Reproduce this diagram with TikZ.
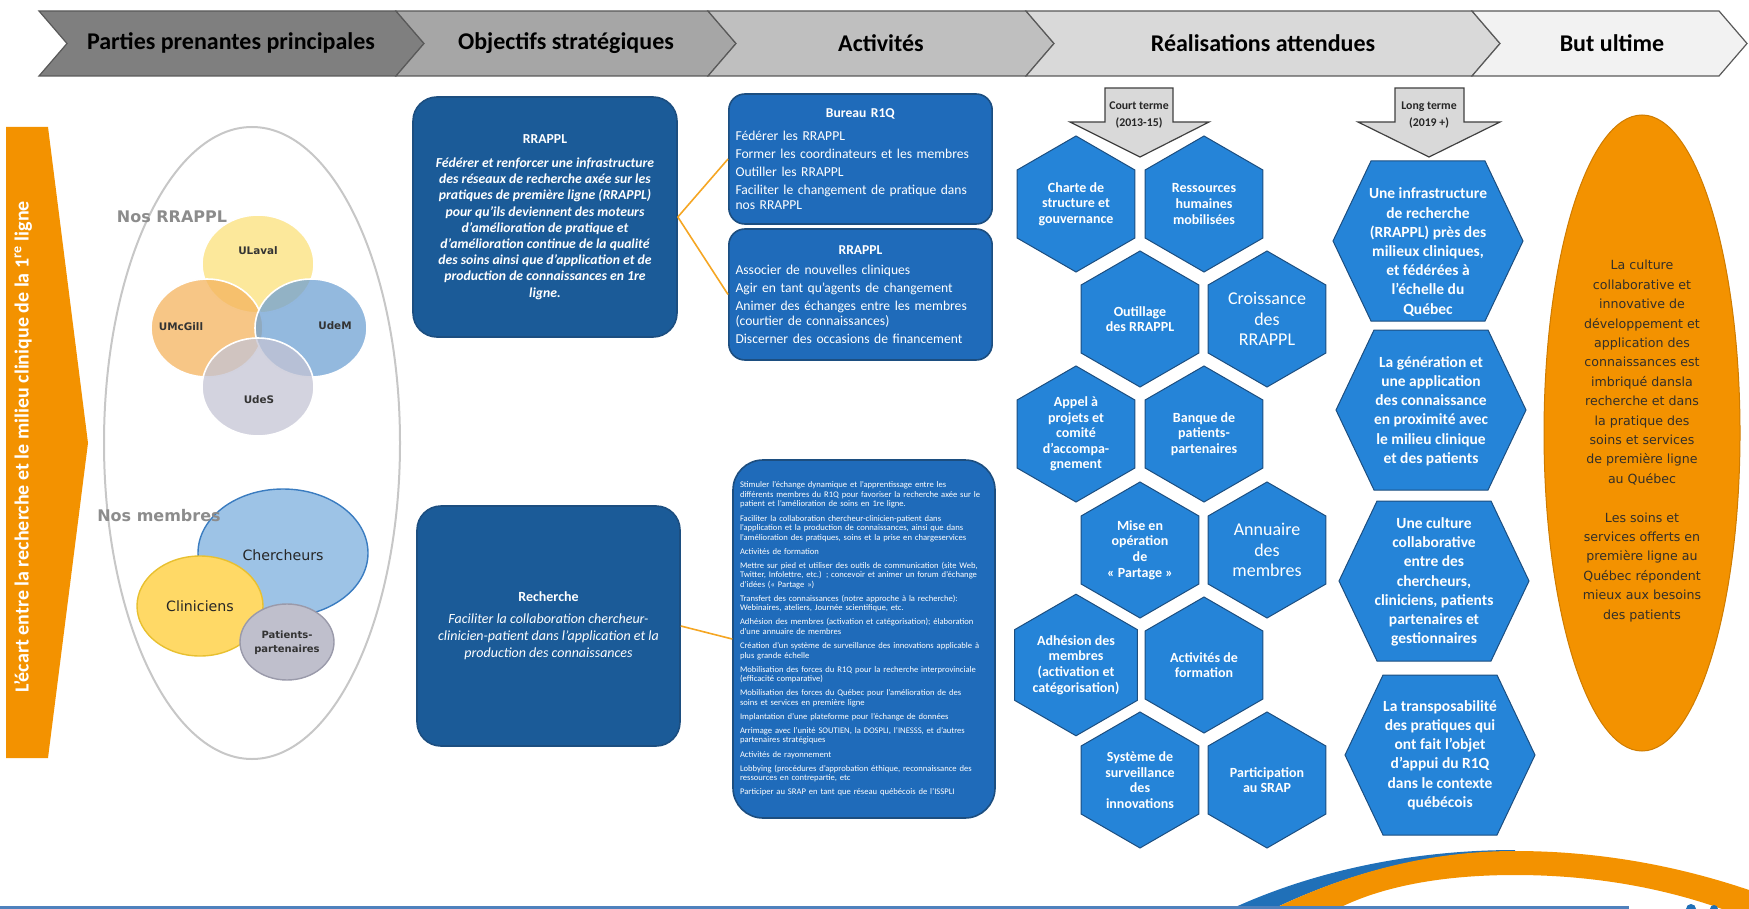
\documentclass[tikz,border=0pt]{standalone}
\usepackage{fontspec}
\setmainfont{Carlito}
\newfontfamily\verdana{DejaVu Sans}
\usetikzlibrary{shapes.geometric}

\definecolor{hdrA}{HTML}{7F7F7F}
\definecolor{hdrB}{HTML}{A6A6A6}
\definecolor{hdrC}{HTML}{BFBFBF}
\definecolor{hdrD}{HTML}{D9D9D9}
\definecolor{hdrE}{HTML}{F2F2F2}
\definecolor{orangeR}{HTML}{F39200}
\definecolor{orangeLink}{HTML}{F5A623}
\definecolor{blueObj}{HTML}{1B5B98}
\definecolor{blueAct}{HTML}{1F6BBA}
\definecolor{blueHex}{HTML}{2584D8}
\definecolor{blueEdge}{HTML}{1C4E80}
\definecolor{vLaval}{HTML}{FBE07A}
\definecolor{vMcGill}{HTML}{F4B35E}
\definecolor{vUdeM}{HTML}{6FA1D3}
\definecolor{vUdeS}{HTML}{C4C4D4}
\definecolor{chercheur}{HTML}{9DC3E6}
\definecolor{chercheurEdge}{HTML}{3A7CC0}
\definecolor{clinicien}{HTML}{FFD966}
\definecolor{clinicienEdge}{HTML}{E8C030}
\definecolor{patient}{HTML}{BFBFCC}
\definecolor{patientEdge}{HTML}{9A9AAA}
\definecolor{swooshBlue}{HTML}{2070B8}
\definecolor{lineBlue}{HTML}{4F81BD}

\begin{document}
\begin{tikzpicture}[
    x=0.5pt, y=-0.5pt,
    chevron/.style={draw=black!65, line width=0.6pt},
    hdrtext/.style={font=\bfseries\fontsize{12}{14}\selectfont, text=black},
    objbox/.style={rectangle, rounded corners=12pt, draw=blueEdge, line width=0.8pt, fill=blueObj, text=white, minimum width=132pt, minimum height=120pt, align=center},
    actbox/.style={rectangle, rounded corners=8pt, draw=blueEdge, line width=0.8pt, fill=blueAct, text=white, align=left},
    hexcell/.style={regular polygon, regular polygon sides=6, shape border rotate=30, minimum size=68pt, inner sep=0pt, fill=blueHex, draw=blueEdge, line width=0.5pt, text=white, align=center, font=\bfseries\fontsize{7}{7.8}\selectfont},
    bighex/.style={hexcell, font=\fontsize{9}{10.4}\selectfont},
    longhex/.style={fill=blueHex, draw=blueEdge, line width=0.5pt},
    longtext/.style={text=white, align=center, font=\bfseries\fontsize{7.75}{9.6}\selectfont},
    termarrow/.style={fill=black!15, draw=black!75, line width=0.6pt},
    termtext/.style={align=center, font=\bfseries\fontsize{5.9}{8.5}\selectfont, text=black!85},
    link/.style={draw=orangeLink, line width=0.8pt},
    venn/.style={ellipse, minimum width=56pt, minimum height=49pt, draw=white, line width=0.8pt, fill opacity=0.75},
    vennlabel/.style={font=\verdana\bfseries\fontsize{5.2}{6}\selectfont, text=black!80},
    grouplabel/.style={font=\verdana\bfseries\fontsize{8}{9}\selectfont, text=black!45},
    member/.style={ellipse, line width=0.7pt},
    memberlabel/.style={font=\verdana\fontsize{7.1}{8}\selectfont, text=black!85},
]
\useasboundingbox (0,0) rectangle (1749,909);

% Header chevrons
\draw[chevron, fill=hdrA] (39,11) -- (396,11) -- (424,43.5) -- (396,76) -- (39,76) -- (67,43.5) -- cycle;
\draw[chevron, fill=hdrB] (396,11) -- (708,11) -- (736,43.5) -- (708,76) -- (396,76) -- (424,43.5) -- cycle;
\draw[chevron, fill=hdrC] (708,11) -- (1026,11) -- (1054,43.5) -- (1026,76) -- (708,76) -- (736,43.5) -- cycle;
\draw[chevron, fill=hdrD] (1026,11) -- (1472,11) -- (1500,43.5) -- (1472,76) -- (1026,76) -- (1054,43.5) -- cycle;
\draw[chevron, fill=hdrE] (1472,11) -- (1719,11) -- (1747,43.5) -- (1719,76) -- (1472,76) -- (1500,43.5) -- cycle;
\node[hdrtext] (hparties) at (231,43) {Parties prenantes principales};
\node[hdrtext] (hobjectifs) at (566,43) {Objectifs stratégiques};
\node[hdrtext] (hactivites) at (881,43) {Activités};
\node[hdrtext] (hrealisations) at (1263,43) {Réalisations attendues};
\node[hdrtext] (hbut) at (1612,43) {But ultime};

% Left arrow
\fill[orangeR] (6,127) -- (48,127) -- (88,443) -- (48,758) -- (6,758) -- cycle;
\node[rotate=90, text=white, font=\bfseries\fontsize{10}{12}\selectfont] (ecart) at (23,447)
    {L’écart entre la recherche et le milieu clinique de la 1\textsuperscript{re} ligne};

% Parties prenantes
\node[ellipse, draw=black!22, line width=1pt, minimum width=148pt, minimum height=316pt] (parties) at (252,443) {};
\node[venn, fill=vLaval] (ulaval) at (258,264) {};
\node[venn, fill=vMcGill] (umcgill) at (207,328) {};
\node[venn, fill=vUdeM] (udem) at (311,328) {};
\node[venn, fill=vUdeS] (udes) at (258,387) {};
\node[grouplabel] (nosrrappl) at (172,217) {Nos RRAPPL};
\node[vennlabel] (lulaval) at (258,251) {ULaval};
\node[vennlabel] (lumcgill) at (181,327) {UMcGill};
\node[vennlabel] (ludem) at (335,326) {UdeM};
\node[vennlabel] (ludes) at (259,400) {UdeS};

\node[member, fill=chercheur, draw=chercheurEdge, minimum width=85pt, minimum height=64pt] (chercheurs) at (283,553) {};
\node[grouplabel] (nosmembres) at (159,516) {Nos membres};
\node[member, fill=clinicien, draw=clinicienEdge, minimum width=63pt, minimum height=50pt] (cliniciens) at (200,606) {};
\node[member, fill=patient, draw=patientEdge, minimum width=47pt, minimum height=38pt] (patients) at (287,642) {};
\node[memberlabel] (lchercheurs) at (283,555) {Chercheurs};
\node[memberlabel] (lcliniciens) at (200,606) {Cliniciens};
\node[vennlabel, align=center, font=\verdana\bfseries\fontsize{5}{7}\selectfont] (lpatients) at (287,643) {Patients-\\partenaires};

% Objectifs strategiques
\node[objbox, font=\bfseries\itshape\fontsize{6.85}{8.1}\selectfont] (objrrappl) at (545,217) {%
    \textup{RRAPPL}\\[4pt]
    Fédérer et renforcer une infrastructure\\des réseaux de recherche axée sur les\\pratiques de première ligne (RRAPPL)\\pour qu’ils deviennent des moteurs\\d’amélioration de pratique et\\d’amélioration continue de la qualité\\des soins ainsi que d’application et de\\production de connaissances en 1re\\ligne.};
\node[objbox, minimum width=131.5pt, font=\itshape\fontsize{7}{8.5}\selectfont] (objrecherche) at (548.5,626) {%
    \textbf{\textup{Recherche}}\\[2.5pt]
    Faciliter la collaboration chercheur-\\clinicien-patient dans l’application et la\\production des connaissances};

% Activites
\node[actbox, minimum width=131.5pt, minimum height=65pt, text width=125pt, font=\fontsize{6.8}{7.5}\selectfont] (actbureau) at (860.5,159) {%
    {\centering\textbf{Bureau R1Q}\par}\vspace{4pt}
    Fédérer les RRAPPL\par\vspace{1.5pt}
    Former les coordinateurs et les membres\par\vspace{1.5pt}
    Outiller les RRAPPL\par\vspace{1.5pt}
    Faciliter le changement de pratique dans\\nos RRAPPL\par};
\node[actbox, minimum width=131.5pt, minimum height=65.5pt, text width=125pt, font=\fontsize{6.8}{7.5}\selectfont] (actrrappl) at (860.5,294.5) {%
    {\centering\textbf{RRAPPL}\par}\vspace{2.5pt}
    Associer de nouvelles cliniques\par\vspace{1.5pt}
    Agir en tant qu’agents de changement\par\vspace{1.5pt}
    Animer des échanges entre les membres\\(courtier de connaissances)\par\vspace{1.5pt}
    Discerner des occasions de financement\par};
\node[actbox, rounded corners=15pt, minimum width=131pt, minimum height=179pt, text width=124pt, font=\fontsize{4.3}{4.75}\selectfont] (actrecherche) at (864,639) {%
    Stimuler l’échange dynamique et l’apprentissage entre les\\différents membres du R1Q pour favoriser la recherche axée sur le\\patient et l’amélioration de soins en 1re ligne.\par\vspace{2.3pt}
    Faciliter la collaboration chercheur-clinicien-patient dans\\l’application et la production de connaissances, ainsi que dans\\l’amélioration des pratiques, soins et la prise en chargeservices\par\vspace{2.3pt}
    Activités de formation\par\vspace{2.3pt}
    Mettre sur pied et utiliser des outils de communication (site Web,\\Twitter, Infolettre, etc.) ; concevoir et animer un forum d’échange\\d’idées («~Partage~»)\par\vspace{2.3pt}
    Transfert des connaissances (notre approche à la recherche):\\Webinaires, ateliers, Journée scientifique, etc.\par\vspace{2.3pt}
    Adhésion des membres (activation et catégorisation); élaboration\\d’une annuaire de membres\par\vspace{2.3pt}
    Création d’un système de surveillance des innovations applicable à\\plus grande échelle\par\vspace{2.3pt}
    Mobilisation des forces du R1Q pour la recherche interprovinciale\\(efficacité comparative)\par\vspace{2.3pt}
    Mobilisation des forces du Québec pour l’amélioration de des\\soins et services en première ligne\par\vspace{2.3pt}
    Implantation d’une plateforme pour l’échange de données\par\vspace{2.3pt}
    Arrimage avec l’unité SOUTIEN, la DOSPLI, l’INESSS, et d’autres\\partenaires stratégiques\par\vspace{2.3pt}
    Activités de rayonnement\par\vspace{2.3pt}
    Lobbying (procédures d’approbation éthique, reconnaissance des\\ressources en contrepartie, etc\par\vspace{2.3pt}
    Participer au SRAP en tant que réseau québécois de l’ISSPLI\par};

% Orange links
\draw[link] (objrrappl.east) -- (actbureau.west);
\draw[link] (objrrappl.east) -- (actrrappl.west);
\draw[link] (objrecherche.east) -- (actrecherche.west);

% Term arrows
\draw[termarrow] (1105,88) -- (1173,88) -- (1173,122) -- (1209,122) -- (1140,157) -- (1070,122) -- (1105,122) -- cycle;
\node[termtext] (court) at (1139,115) {Court terme\\(2013-15)};
\draw[termarrow] (1395,88) -- (1464,88) -- (1464,122) -- (1500,122) -- (1429,157) -- (1358,122) -- (1395,122) -- cycle;
\node[termtext] (long) at (1429,115) {Long terme\\(2019 +)};

% Court terme hexagons
\node[hexcell] (charte) at (1076,204) {Charte de\\structure et\\gouvernance};
\node[hexcell] (ressources) at (1204,204) {Ressources\\humaines\\mobilisées};
\node[hexcell] (outillage) at (1140,319) {Outillage\\des RRAPPL};
\node[bighex] (croissance) at (1267,319) {Croissance\\des\\RRAPPL};
\node[hexcell] (appel) at (1076,434) {Appel à\\projets et\\comité\\d’accompa-\\gnement};
\node[hexcell] (banque) at (1204,434) {Banque de\\patients-\\partenaires};
\node[hexcell] (miseop) at (1140,550) {Mise en\\opération\\de\\«~Partage~»};
\node[bighex] (annuaire) at (1267,550) {Annuaire\\des\\membres};
\node[hexcell] (adhesion) at (1076,665) {Adhésion des\\membres\\(activation et\\catégorisation)};
\node[hexcell] (formation) at (1204,665) {Activités de\\formation};
\node[hexcell] (systeme) at (1140,780) {Système de\\surveillance\\des\\innovations};
\node[hexcell] (srap) at (1267,780) {Participation\\au SRAP};

% Long terme hexagons
\foreach \cx/\cy in {1428/241, 1431/410, 1434/581, 1440/755}
    \draw[longhex] (\cx-57,\cy-80) -- (\cx+57,\cy-80) -- (\cx+95,\cy) -- (\cx+57,\cy+80) -- (\cx-57,\cy+80) -- (\cx-95,\cy) -- cycle;
\node[longtext] (infra) at (1428,252) {Une infrastructure\\de recherche\\(RRAPPL) près des\\milieux cliniques,\\et fédérées à\\l’échelle du\\Québec};
\node[longtext] (generation) at (1431,411) {La génération et\\une application\\des connaissance\\en proximité avec\\le milieu clinique\\et des patients};
\node[longtext] (culture) at (1434,582) {Une culture\\collaborative\\entre des\\chercheurs,\\cliniciens, patients\\partenaires et\\gestionnaires};
\node[longtext] (transpo) at (1440,755) {La transposabilité\\des pratiques qui\\ont fait l’objet\\d’appui du R1Q\\dans le contexte\\québécois};

% But ultime
\node[ellipse, fill=orangeR, draw=orangeR!85!black, line width=0.5pt, minimum width=98pt, minimum height=318pt] (butultime) at (1642,433) {};
\node[align=center, text=black!85!olive, font=\verdana\fontsize{6.3}{9.7}\selectfont] (butultimetxt) at (1642,441) {La culture\\collaborative et\\innovative de\\développement et\\application des\\connaissances est\\imbriqué dansla\\recherche et dans\\la pratique des\\soins et services\\de première ligne\\au Québec\\[9.7pt]Les soins et\\services offerts en\\première ligne au\\Québec répondent\\mieux aux besoins\\des patients};

% Bottom swoosh
\fill[swooshBlue] (1231,909) .. controls (1320,868) and (1420,850) .. (1515,850)
    -- (1515,852) .. controls (1430,852) and (1350,872) .. (1273,909) -- cycle;
\fill[orangeR] (1273,909) .. controls (1350,872) and (1430,851) .. (1515,851)
    .. controls (1610,851) and (1690,870) .. (1749,890) -- (1749,909) -- (1722,909)
    .. controls (1660,887) and (1590,875) .. (1515,875)
    .. controls (1440,875) and (1380,887) .. (1337,909) -- cycle;
\fill[swooshBlue] (1691,909) circle (5);
\fill[swooshBlue] (1714,909) circle (4);
\draw[lineBlue, line width=1.5pt] (0,907) -- (1629,907);

\end{tikzpicture}
\end{document}
